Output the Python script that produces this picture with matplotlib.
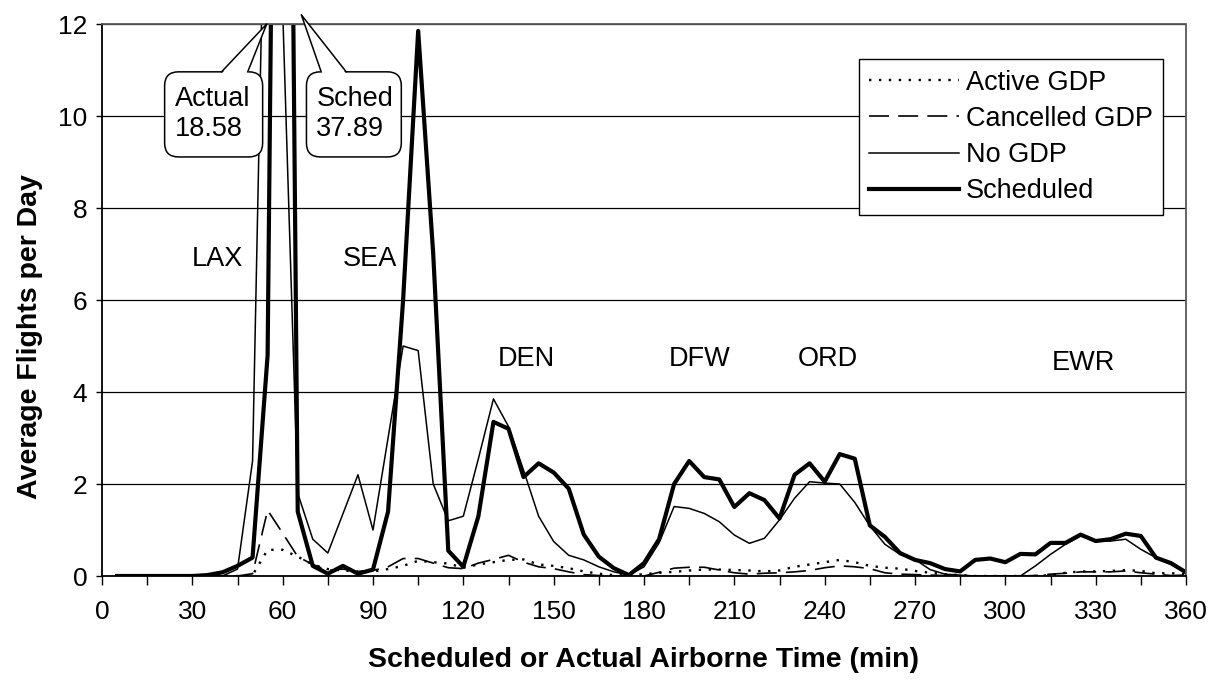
import numpy as np
import matplotlib.pyplot as plt
from matplotlib.patches import FancyBboxPatch, Polygon

plt.rcParams['font.family'] = ['Liberation Sans', 'DejaVu Sans']

# airborne time bins (min)
minutes = list(range(5, 361, 5))

active_gdp = [0, 0, 0, 0, 0, 0, 0, 0, 0, 0.02, 0.57, 0.57, 0.42, 0.25, 0.15, 0.12, 0.1, 0.1,
              0.15, 0.22, 0.33, 0.3, 0.27, 0.18, 0.25, 0.3, 0.35, 0.36, 0.25, 0.22, 0.17, 0.1,
              0.05, 0.02, 0.01, 0.04, 0.07, 0.09, 0.12, 0.14, 0.14, 0.13, 0.12, 0.1, 0.12, 0.2,
              0.25, 0.3, 0.35, 0.3, 0.22, 0.18, 0.16, 0.11, 0.07, 0.04, 0.02, 0, 0, 0, 0, 0,
              0.02, 0.07, 0.1, 0.1, 0.11, 0.13, 0.11, 0.06, 0.06, 0.04]
cancelled_gdp = [0, 0, 0, 0, 0, 0, 0, 0, 0, 0.05, 1.43, 0.93, 0.42, 0.25, 0.12, 0.15, 0.1, 0.12,
                 0.2, 0.38, 0.38, 0.28, 0.18, 0.16, 0.28, 0.36, 0.45, 0.3, 0.2, 0.16, 0.09, 0.03,
                 0.01, 0, 0, 0, 0.08, 0.17, 0.19, 0.19, 0.13, 0.07, 0.04, 0.06, 0.07, 0.09,
                 0.12, 0.18, 0.22, 0.2, 0.16, 0.07, 0.04, 0.03, 0.02, 0.01, 0, 0, 0, 0, 0, 0.01,
                 0.04, 0.06, 0.09, 0.09, 0.09, 0.11, 0.07, 0.04, 0.01, 0.02]
no_gdp = [0, 0, 0, 0, 0, 0, 0, 0, 0.15, 2.5, 18.58, 12.3, 1.8, 0.8, 0.5, 1.35, 2.2, 1.0,
          3.0, 5.0, 4.9, 2.0, 1.2, 1.3, 2.55, 3.85, 3.25, 2.3, 1.3, 0.75, 0.45, 0.35,
          0.2, 0.09, 0.02, 0.2, 0.72, 1.51, 1.47, 1.36, 1.18, 0.89, 0.71, 0.82, 1.22, 1.69,
          2.05, 2.02, 2.0, 1.6, 1.09, 0.69, 0.47, 0.36, 0.14, 0.04, 0.02, 0, 0, 0, 0, 0.22,
          0.47, 0.69, 0.87, 0.76, 0.76, 0.8, 0.58, 0.4, 0.25, 0.07]
scheduled = [0, 0, 0, 0, 0, 0, 0.02, 0.08, 0.22, 0.4, 4.8, 37.89, 1.4, 0.22, 0.05, 0.22, 0.05, 0.14,
             1.4, 6.0, 11.85, 7.0, 0.55, 0.2, 1.3, 3.35, 3.2, 2.15, 2.45, 2.25, 1.9, 0.9,
             0.42, 0.17, 0.02, 0.28, 0.8, 2.0, 2.5, 2.15, 2.1, 1.5, 1.8, 1.65, 1.25, 2.2,
             2.45, 2.05, 2.65, 2.55, 1.1, 0.85, 0.5, 0.35, 0.28, 0.15, 0.1, 0.35, 0.38, 0.3, 0.48, 0.47,
             0.72, 0.72, 0.9, 0.76, 0.8, 0.92, 0.87, 0.4, 0.28, 0.08]

airports = ['LAX', 'SEA', 'DEN', 'DFW', 'ORD', 'EWR']
airport_x = [38.5, 89, 141, 198.5, 241, 326]
airport_y = [6.9, 6.9, 4.72, 4.72, 4.72, 4.62]

fig = plt.figure(figsize=(12.16, 6.82), dpi=100)
ax = fig.add_axes([102 / 1216, 1 - 576 / 682, 1084 / 1216, 552 / 682])

ax.plot(minutes, active_gdp, color='black', lw=1.7, linestyle=(0, (1, 3.2)), label='Active GDP')
ax.plot(minutes, cancelled_gdp, color='black', lw=1.2, dashes=(12, 5.5), label='Cancelled GDP')
ax.plot(minutes, no_gdp, color='black', lw=1.1, label='No GDP')
ax.plot(minutes, scheduled, color='black', lw=3.0, label='Scheduled')

ax.set_xlim(0, 360)
ax.set_ylim(0, 12)
ax.set_xticks(range(0, 361, 30))
ax.set_xticks(range(15, 361, 30), minor=True)
ax.set_yticks(range(0, 13, 2))
ax.tick_params(axis='x', which='both', length=6.5, width=1, pad=11, labelsize=19, direction='out')
ax.tick_params(axis='y', length=4.5, width=1, pad=6, labelsize=19, direction='out')

ax.yaxis.grid(True, color='black', lw=0.9)
ax.set_axisbelow(True)
for side in ['top', 'right']:
    ax.spines[side].set_color('0.35')
    ax.spines[side].set_linestyle((0, (1, 1)))
    ax.spines[side].set_linewidth(1.3)
for side in ['left', 'bottom']:
    ax.spines[side].set_color('black')
    ax.spines[side].set_linewidth(1.3)

xl = ax.set_xlabel('Scheduled or Actual Airborne Time (min)', fontsize=20.5, fontweight='bold')
ax.xaxis.set_label_coords(0.5, -0.152)
xl.set_va('center')
yl = ax.set_ylabel('Average Flights per Day', fontsize=20.5, fontweight='bold')
ax.yaxis.set_label_coords(-0.066, 0.433)
yl.set_va('center')

for name, x, y in zip(airports, airport_x, airport_y):
    ax.text(x, y, name, fontsize=19.5, ha='center', va='center')

leg = ax.legend(loc='upper right', bbox_to_anchor=(0.979, 0.937), fontsize=19.5, fancybox=False,
                edgecolor='black', framealpha=1, handlelength=3.3, handletextpad=0.25,
                labelspacing=0.38, borderpad=0.4, borderaxespad=0)
leg.get_frame().set_linewidth(1.0)

# rounded callout boxes for the off-scale peaks
aspect = 3.012 / 46
callouts = [('Actual\n18.58', 20.8, 53.35, 39.7, 48.4, (54.7, 12.0)),
            ('Sched\n37.89', 67.9, 99.4, 72.8, 81.1, (66.2, 12.2))]
y_bot, y_top = 9.11, 10.96
for txt, x0, x1, b0, b1, tip in callouts:
    box = FancyBboxPatch((x0, y_bot), x1 - x0, y_top - y_bot,
                         boxstyle='round,pad=0,rounding_size=4.6', mutation_aspect=aspect,
                         fc='white', ec='black', lw=1.1, zorder=5, clip_on=False)
    ax.add_patch(box)
    ax.add_patch(Polygon([(b0, y_top - 0.04), (b1, y_top - 0.04), tip], closed=True,
                         fc='white', ec='none', zorder=6, clip_on=False))
    ax.plot([b0, tip[0], b1], [y_top, tip[1], y_top], color='black', lw=1.1,
            zorder=7, clip_on=False)
    ax.text(x0 + 3.3, (y_top + y_bot) / 2, txt, fontsize=19.5, ha='left', va='center',
            linespacing=1.2, zorder=8)

fig.savefig('out.png', dpi=100)
